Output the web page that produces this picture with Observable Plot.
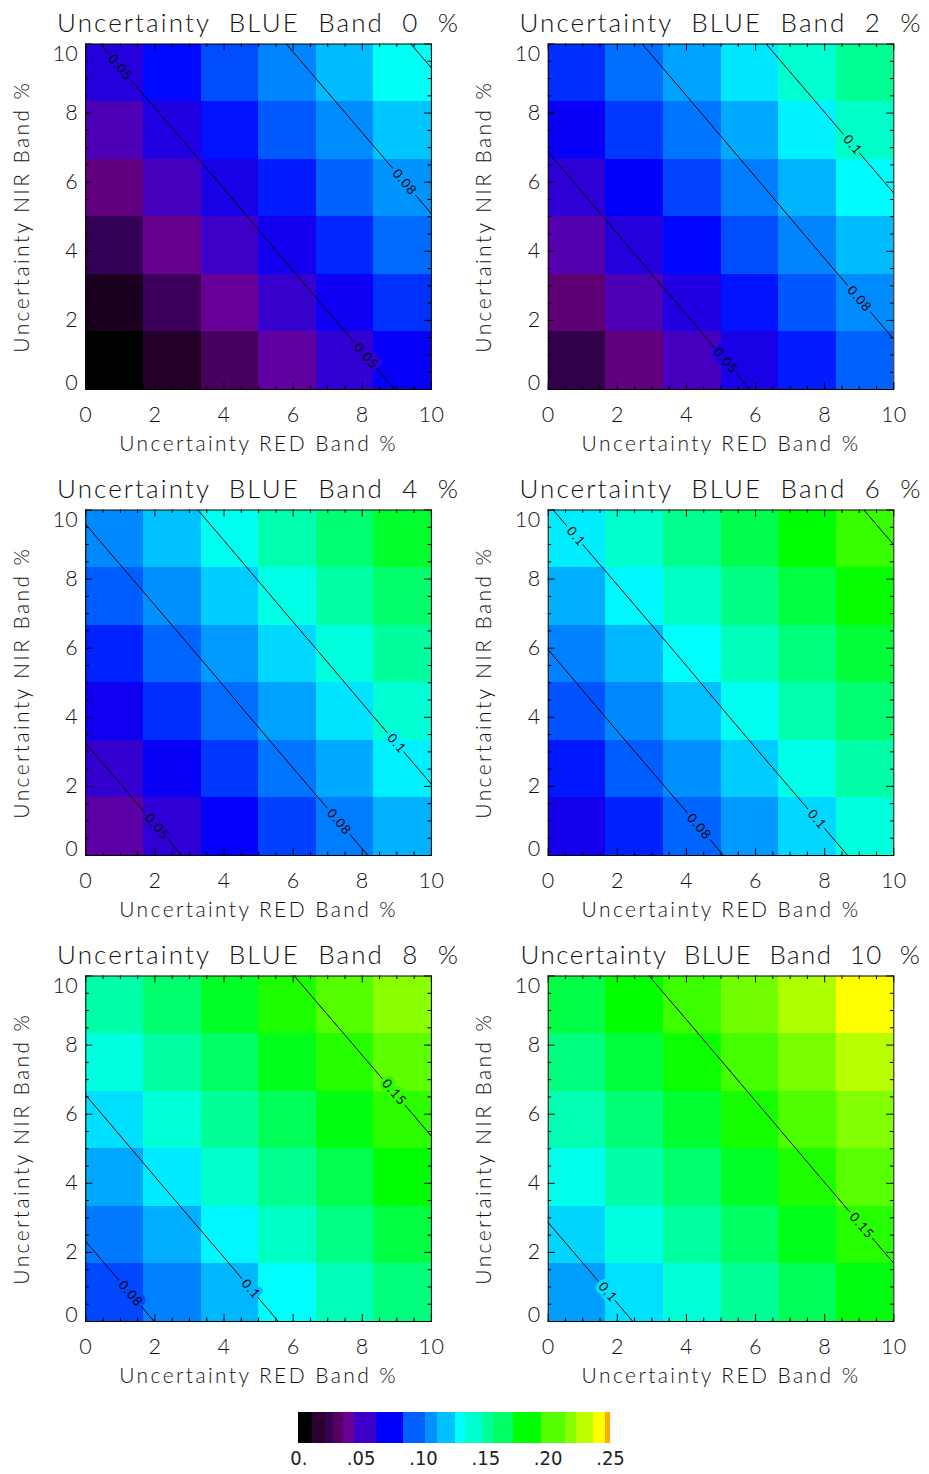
<!DOCTYPE html>
<html>
<head>
<meta charset="utf-8">
<script src="https://cdn.jsdelivr.net/npm/d3@7"></script>
<script src="https://cdn.jsdelivr.net/npm/@observablehq/plot@0.6"></script>
<style>
  body { margin: 0; background: #fff; }
  #page { position: relative; width: 929px; height: 1474px; overflow: hidden; background: #fff; }
  .slot { position: absolute; }
  .slot svg { display: block; overflow: visible; }
  svg text { white-space: pre; }
  g[font-size="26"] { letter-spacing: 2.1px; }
  g[font-size="25.9"] { letter-spacing: 1.5px; }
  g[font-size="21"] { letter-spacing: 2.4px; }
  g[font-size="21.5"] { letter-spacing: 0.4px; }
  g[font-size="13"] { letter-spacing: 1px; }
</style>
</head>
<body>
<div id="page"></div>
<script>
// Uncertainty levels (%) of each band
const BLUE_LEVELS = [0, 2, 4, 6, 8, 10];
const RED_LEVELS = [0, 2, 4, 6, 8, 10];
const NIR_LEVELS = [0, 2, 4, 6, 8, 10];

// Resulting uncertainty; one 6x6 grid per BLUE level.
// Rows follow NIR (0 → 10), columns follow RED (0 → 10).
const GRID_BLUE_0 = [
  [0.0003, 0.0114, 0.0225, 0.0337, 0.0448, 0.0559],
  [0.0098, 0.0209, 0.0320, 0.0432, 0.0543, 0.0654],
  [0.0193, 0.0304, 0.0415, 0.0527, 0.0638, 0.0749],
  [0.0287, 0.0398, 0.0509, 0.0621, 0.0732, 0.0843],
  [0.0382, 0.0493, 0.0604, 0.0716, 0.0827, 0.0938],
  [0.0477, 0.0588, 0.0699, 0.0811, 0.0922, 0.1033]
];
const GRID_BLUE_2 = [
  [0.0175, 0.0286, 0.0397, 0.0509, 0.0620, 0.0731],
  [0.0270, 0.0381, 0.0492, 0.0604, 0.0715, 0.0826],
  [0.0365, 0.0476, 0.0587, 0.0699, 0.0810, 0.0921],
  [0.0459, 0.0570, 0.0681, 0.0793, 0.0904, 0.1015],
  [0.0554, 0.0665, 0.0776, 0.0888, 0.0999, 0.1110],
  [0.0649, 0.0760, 0.0871, 0.0983, 0.1094, 0.1205]
];
const GRID_BLUE_4 = [
  [0.0346, 0.0457, 0.0568, 0.0680, 0.0791, 0.0902],
  [0.0441, 0.0552, 0.0663, 0.0775, 0.0886, 0.0997],
  [0.0536, 0.0647, 0.0758, 0.0870, 0.0981, 0.1092],
  [0.0630, 0.0741, 0.0852, 0.0964, 0.1075, 0.1186],
  [0.0725, 0.0836, 0.0947, 0.1059, 0.1170, 0.1281],
  [0.0820, 0.0931, 0.1042, 0.1154, 0.1265, 0.1376]
];
const GRID_BLUE_6 = [
  [0.0518, 0.0629, 0.0740, 0.0852, 0.0963, 0.1074],
  [0.0613, 0.0724, 0.0835, 0.0947, 0.1058, 0.1169],
  [0.0708, 0.0819, 0.0930, 0.1042, 0.1153, 0.1264],
  [0.0802, 0.0913, 0.1024, 0.1136, 0.1247, 0.1358],
  [0.0897, 0.1008, 0.1119, 0.1231, 0.1342, 0.1453],
  [0.0992, 0.1103, 0.1214, 0.1326, 0.1437, 0.1548]
];
const GRID_BLUE_8 = [
  [0.0690, 0.0801, 0.0912, 0.1024, 0.1135, 0.1246],
  [0.0785, 0.0896, 0.1007, 0.1119, 0.1230, 0.1341],
  [0.0880, 0.0991, 0.1102, 0.1214, 0.1325, 0.1436],
  [0.0974, 0.1085, 0.1196, 0.1308, 0.1419, 0.1530],
  [0.1069, 0.1180, 0.1291, 0.1403, 0.1514, 0.1625],
  [0.1164, 0.1275, 0.1386, 0.1498, 0.1609, 0.1720]
];
const GRID_BLUE_10 = [
  [0.0864, 0.0975, 0.1086, 0.1198, 0.1309, 0.1420],
  [0.0959, 0.1070, 0.1181, 0.1293, 0.1404, 0.1515],
  [0.1054, 0.1165, 0.1276, 0.1388, 0.1499, 0.1610],
  [0.1148, 0.1259, 0.1370, 0.1482, 0.1593, 0.1704],
  [0.1243, 0.1354, 0.1465, 0.1577, 0.1688, 0.1799],
  [0.1338, 0.1449, 0.1560, 0.1672, 0.1783, 0.1894]
];
const GRIDS = [GRID_BLUE_0, GRID_BLUE_2, GRID_BLUE_4, GRID_BLUE_6, GRID_BLUE_8, GRID_BLUE_10];

// Contour levels, and where each labelled contour carries its label (NIR level of the label)
const CONTOUR_LEVELS = [0.01, 0.05, 0.08, 0.1, 0.15, 0.2];
const LABELS_BLUE_0 = [{level: 0.05, nir: 9.32}, {level: 0.05, nir: 0.97}, {level: 0.08, nir: 6.0}];
const LABELS_BLUE_2 = [{level: 0.05, nir: 0.83}, {level: 0.08, nir: 2.62}, {level: 0.1, nir: 7.08}];
const LABELS_BLUE_4 = [{level: 0.05, nir: 0.83}, {level: 0.08, nir: 0.97}, {level: 0.1, nir: 3.24}];
const LABELS_BLUE_6 = [{level: 0.1, nir: 9.23}, {level: 0.08, nir: 0.83}, {level: 0.1, nir: 1.04}];
const LABELS_BLUE_8 = [{level: 0.08, nir: 0.8}, {level: 0.1, nir: 0.94}, {level: 0.15, nir: 6.63}];
const LABELS_BLUE_10 = [{level: 0.1, nir: 0.85}, {level: 0.15, nir: 2.77}];
const LABELS = [LABELS_BLUE_0, LABELS_BLUE_2, LABELS_BLUE_4, LABELS_BLUE_6, LABELS_BLUE_8, LABELS_BLUE_10];

// Colour table (position 0–1 along the table → colour)
const TABLE_POS = [0, 0.021, 0.066, 0.0996, 0.1264, 0.1604, 0.2138, 0.2928, 0.3712, 0.4248, 0.473,
  0.5184, 0.5612, 0.606, 0.656, 0.734, 0.8174, 0.8734, 0.9188, 0.9642, 0.9914, 1];
const TABLE_COLORS = ["#000000", "#000000", "#2c0030", "#340058", "#580062", "#6a0096", "#3c00c8",
  "#0000ff", "#0060ff", "#0090ff", "#00c0ff", "#00ffff", "#00ffcc", "#00ff99", "#00ff66", "#00ff00",
  "#55ff00", "#88ff00", "#bbff00", "#ffff00", "#ffaa00", "#ff9900"];
const IMAGE_MAX = 0.1965;  // value shown with the top of the table in the images
const BAR_MAX = 0.25;      // range written on the colour bar

// Colour bar: swatch edges and tick labels
const BAR_EDGES = [0, 0.0107, 0.0222, 0.0276, 0.0356, 0.0446, 0.0623, 0.0841, 0.1015, 0.1109, 0.1256,
  0.1336, 0.147, 0.156, 0.172, 0.195, 0.2137, 0.223, 0.2364, 0.2457, 0.25];
const BAR_TICKS = [0, 0.05, 0.10, 0.15, 0.20, 0.25];
const BAR_TICK_LABELS = ["0.", ".05", ".10", ".15", ".20", ".25"];

// Axis ticks
const MAJOR_TICKS = [0, 2, 4, 6, 8, 10];
const MINOR_TICKS = d3.range(0.5, 10, 0.5).filter(v => v % 2 !== 0);

const FONT = "Lato, 'DejaVu Sans', sans-serif";
const BAR_FONT = "'Liberation Sans Narrow', 'DejaVu Sans Condensed', 'Liberation Sans', sans-serif";

// value of the grid along a NIR level, linear between the sample rows
function sampleRow(grid, nir) {
  const j = Math.max(0, Math.min(4, Math.floor(nir / 2)));
  const f = nir / 2 - j;
  return grid[j].map((v, i) => v + (grid[j + 1][i] - v) * f);
}
// RED level where the contour of `level` crosses a NIR level
function redAt(grid, level, nir) {
  const row = sampleRow(grid, nir);
  for (let i = 0; i < 5; i++) {
    const a = row[i], b = row[i + 1];
    if ((a - level) * (b - level) <= 0 && a !== b) return RED_LEVELS[i] + 2 * (level - a) / (b - a);
  }
  return null;
}
function gradientAt(grid, red, nir) {
  const i = Math.max(0, Math.min(4, Math.floor(red / 2)));
  const j = Math.max(0, Math.min(4, Math.floor(nir / 2)));
  const gR = ((grid[j][i + 1] - grid[j][i]) + (grid[j + 1][i + 1] - grid[j + 1][i])) / 4;
  const gN = ((grid[j + 1][i] - grid[j][i]) + (grid[j + 1][i + 1] - grid[j][i + 1])) / 4;
  return [gR, gN];
}
function cellValue(grid, red, nir) {
  const i = Math.max(0, Math.min(5, Math.floor(red / (10 / 6))));
  const j = Math.max(0, Math.min(5, Math.floor(nir / (10 / 6))));
  return grid[j][i];
}

const colorScale = (max) => ({
  type: "linear",
  domain: TABLE_POS.map(t => t * max),
  range: TABLE_COLORS,
  interpolate: "rgb",
  clamp: true
});

function panel(k) {
  const col = k % 2;
  const grid = GRIDS[k];
  const blue = BLUE_LEVELS[k];
  const width = col === 0 ? 464 : 465;
  const height = 466;
  const marginLeft = col === 0 ? 85.3 : 83.7;
  const FW = 345.6, FH = 345.5;
  const marginTop = 43.5;
  const marginRight = width - marginLeft - FW;
  const marginBottom = height - marginTop - FH;
  const kx = FW / 10, ky = FH / 10;

  // one rectangle per sample, the 0–10 range split in six equal steps
  const step = 10 / 6;
  const cells = [];
  NIR_LEVELS.forEach((n, j) => RED_LEVELS.forEach((r, i) => {
    cells.push({x1: i * step, x2: (i + 1) * step, y1: j * step, y2: (j + 1) * step, v: grid[j][i]});
  }));

  const labels = LABELS[k].map(({level, nir}) => {
    const red = redAt(grid, level, nir);
    const [gR, gN] = gradientAt(grid, red, nir);
    return {
      red, nir,
      text: String(level),
      angle: Math.atan2(gR * ky, gN * kx) * 180 / Math.PI,
      under: cellValue(grid, red, nir)
    };
  });

  const tickText = {fontSize: 21.5, fontWeight: 300, fill: "#111"};
  const title = `Uncertainty  BLUE  Band  ${blue}  %`;

  return Plot.plot({
    width, height, marginLeft, marginRight, marginTop, marginBottom,
    style: {fontFamily: FONT, background: "white", color: "black"},
    x: {domain: [0, 10], axis: null},
    y: {domain: [0, 10], axis: null},
    color: colorScale(IMAGE_MAX),
    marks: [
      Plot.rect(cells, {x1: "x1", x2: "x2", y1: "y1", y2: "y2", fill: "v", shapeRendering: "crispEdges"}),
      Plot.contour(grid.flat(), {
        width: 6, height: 6, x1: -1, x2: 11, y1: -1, y2: 11,
        value: d => d, thresholds: CONTOUR_LEVELS,
        fill: "none", stroke: "black", strokeWidth: 1, clip: true
      }),
      Plot.text(labels, {
        x: "red", y: "nir", text: "text", rotate: "angle",
        fill: "black", stroke: "under", strokeWidth: 7, paintOrder: "stroke",
        fontSize: 13, fontFamily: FONT, fontWeight: 400
      }),
      // inward ticks on all four sides
      Plot.tickX(MAJOR_TICKS, {x: d => d, stroke: "black", insetTop: FH - 7}),
      Plot.tickX(MINOR_TICKS, {x: d => d, stroke: "black", insetTop: FH - 3.5}),
      Plot.tickX(MAJOR_TICKS, {x: d => d, stroke: "black", insetBottom: FH - 7}),
      Plot.tickX(MINOR_TICKS, {x: d => d, stroke: "black", insetBottom: FH - 3.5}),
      Plot.tickY(MAJOR_TICKS, {y: d => d, stroke: "black", insetRight: FW - 7}),
      Plot.tickY(MINOR_TICKS, {y: d => d, stroke: "black", insetRight: FW - 3.5}),
      Plot.tickY(MAJOR_TICKS, {y: d => d, stroke: "black", insetLeft: FW - 7}),
      Plot.tickY(MINOR_TICKS, {y: d => d, stroke: "black", insetLeft: FW - 3.5}),
      Plot.frame({stroke: "black", strokeWidth: 1}),
      // tick labels
      Plot.text(MAJOR_TICKS, {x: d => d, text: d => String(d), frameAnchor: "bottom", lineAnchor: "top",
        dy: 17.5, ...tickText}),
      Plot.text(MAJOR_TICKS.filter(v => v > 0 && v < 10), {y: d => d, text: d => String(d), frameAnchor: "left",
        textAnchor: "end", lineAnchor: "middle", dx: -7.6, ...tickText}),
      Plot.text(MAJOR_TICKS.filter(v => v === 0), {y: d => d, text: d => String(d), frameAnchor: "left",
        textAnchor: "end", lineAnchor: "bottom", dx: -7.6, ...tickText}),
      Plot.text(MAJOR_TICKS.filter(v => v === 10), {y: d => d, text: d => String(d), frameAnchor: "left",
        textAnchor: "end", lineAnchor: "top", dx: -7.6, dy: 1.7, ...tickText}),
      // titles (the two-digit one is set a little tighter so it stays on the page)
      Plot.text([title], {text: d => d, frameAnchor: "top", lineAnchor: "bottom",
        textAnchor: "middle", dy: -12.5, fontSize: blue >= 10 ? 25.9 : 26, fontWeight: 300, fill: "#111"}),
      Plot.text(["Uncertainty RED Band %"], {text: d => d, frameAnchor: "bottom", lineAnchor: "bottom",
        textAnchor: "middle", dy: 61.5, fontSize: 21, fontWeight: 300, fill: "#111"}),
      Plot.text(["Uncertainty NIR Band %"], {text: d => d, frameAnchor: "left", lineAnchor: "bottom",
        textAnchor: "middle", rotate: -90, dx: -56.8, fontSize: 21, fontWeight: 300, fill: "#111"})
    ]
  });
}

function colorBar() {
  const swatches = d3.pairs(BAR_EDGES).map(([a, b]) => ({a, b, mid: (a + b) / 2}));
  return Plot.plot({
    width: 929, height: 76,
    marginLeft: 298.3, marginRight: 319, marginTop: 14.3, marginBottom: 31.3,
    style: {background: "white", color: "black"},
    x: {domain: [0, BAR_MAX], axis: null},
    color: colorScale(BAR_MAX),
    marks: [
      Plot.rect(swatches, {x1: "a", x2: "b", fill: "mid", shapeRendering: "crispEdges"}),
      Plot.text(BAR_TICKS, {x: d => d, text: (d, i) => BAR_TICK_LABELS[i], frameAnchor: "bottom", lineAnchor: "top",
        dy: 7.3, fontSize: 20, fontFamily: BAR_FONT, fill: "#222"})
    ]
  });
}

const page = document.getElementById("page");
BLUE_LEVELS.forEach((b, k) => {
  const slot = document.createElement("div");
  slot.className = "slot";
  slot.style.left = (k % 2) * 464 + "px";
  slot.style.top = Math.floor(k / 2) * 466 + "px";
  slot.appendChild(panel(k));
  page.appendChild(slot);
});
const barSlot = document.createElement("div");
barSlot.className = "slot";
barSlot.style.left = "0px";
barSlot.style.top = "1398px";
barSlot.appendChild(colorBar());
page.appendChild(barSlot);
</script>
</body>
</html>
